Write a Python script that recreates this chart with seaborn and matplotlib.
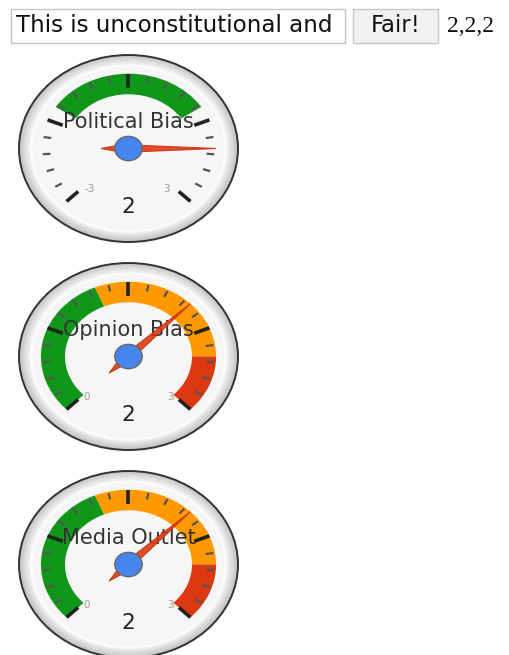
import numpy as np
import pandas as pd
import matplotlib
matplotlib.use("Agg")
import matplotlib.pyplot as plt
import seaborn as sns
from matplotlib.patches import Ellipse, Wedge, Polygon, Rectangle

# ---------------- data ----------------
gauge_labels = ["Political Bias", "Opinion Bias", "Media Outlet"]
gauge_values = [2, 2, 2]
gauge_min = [-3, 0, 0]
gauge_max = [3, 3, 3]
green_from = [-1.25, 0, 0]
green_to = [1.25, 1.25, 1.25]
yellow_from = [None, 1.25, 1.25]
yellow_to = [None, 2.5, 2.5]
red_from = [None, 2.5, 2.5]
red_to = [None, 3, 3]
input_text = "This is unconstitutional and"
button_text = "Fair!"
result_text = ",".join(str(v) for v in gauge_values)

sns.set_theme(style="white")
plt.rcParams['font.family'] = ['DejaVu Sans']

W, H = 510, 655
fig = plt.figure(figsize=(W / 100, H / 100), dpi=100)
fig.patch.set_facecolor("white")

# page axes in pixel coordinates
page = fig.add_axes([0, 0, 1, 1])
page.set_xlim(0, W)
page.set_ylim(H, 0)
page.axis("off")

page.add_patch(Rectangle((11.5, 8.5), 334, 34, fc="white", ec="#c4c4c4", lw=1))
page.text(16, 26, input_text, fontsize=16.6, color="#111", va="center", ha="left")
page.add_patch(Rectangle((353.5, 8.5), 85, 34, fc="#f1f1f1", ec="#c8c8c8", lw=1))
page.text(396, 26, button_text, fontsize=16.4, color="#111", va="center", ha="center")
page.text(447, 26, result_text, fontsize=17, color="#111", va="center", ha="left",
          family=["Liberation Serif", "DejaVu Serif"])

GREEN, ORANGE, RED = "#109618", "#FF9900", "#DC3912"

centers_y = [148.5, 356.5, 564.5]
cx, rx, ry = 128.5, 109.5, 93.5
pad = 1.03


def ang(v, lo, hi):
    return 225 - 270 * (v - lo) / (hi - lo)


bezel = [(2.00, "#c4c4c4", 0.0), (1.96, "#cfcfcf", 0.004), (1.92, "#d9d9d9", 0.006),
         (1.88, "#e3e3e3", 0.006), (1.84, "#eeeeee", 0.004), (1.80, "#fbfbfb", 0.0)]

for i, label in enumerate(gauge_labels):
    cy = centers_y[i]
    ax = fig.add_axes([(cx - rx * pad) / W, 1 - (cy + ry * pad) / H,
                       2 * rx * pad / W, 2 * ry * pad / H])
    ax.set_xlim(-pad, pad)
    ax.set_ylim(-pad, pad)
    ax.axis("off")
    lo, hi = gauge_min[i], gauge_max[i]

    # bezel and face
    for k, (d, c, dy) in enumerate(bezel):
        ax.add_patch(Ellipse((0, dy), d, d, fc=c, ec="none", zorder=1 + 0.01 * k))
    ax.add_patch(Ellipse((0, 0), 2.0, 2.0, fc="none", ec="#333333", lw=1.4, zorder=1.2))
    ax.add_patch(Ellipse((0, 0), 1.75, 1.75, fc="#f6f6f6", ec="none", zorder=1.3))

    # colour bands
    for f, t, c in [(green_from[i], green_to[i], GREEN),
                    (yellow_from[i], yellow_to[i], ORANGE),
                    (red_from[i], red_to[i], RED)]:
        if f is None:
            continue
        ax.add_patch(Wedge((0, 0), 0.80, ang(t, lo, hi), ang(f, lo, hi),
                           width=0.22, fc=c, ec="none", zorder=2))

    # ticks
    fr = np.linspace(0, 1, 21)
    for k, q in enumerate(fr):
        a = np.deg2rad(225 - 270 * q)
        if k % 5 == 0:
            r0, r1, lw, col = 0.65, 0.80, 2.6, "#222222"
        else:
            r0, r1, lw, col = 0.715, 0.785, 1.6, "#555555"
        ax.plot([r0 * np.cos(a), r1 * np.cos(a)], [r0 * np.sin(a), r1 * np.sin(a)],
                color=col, lw=lw, solid_capstyle="butt", zorder=3)

    # texts
    ax.text(0, 0.28, label, ha="center", va="center", fontsize=15, color="#333", zorder=4)
    ax.text(0, -0.63, str(gauge_values[i]), ha="center", va="center", fontsize=15.5,
            color="#222", zorder=4)
    off = 0.35 if lo < 0 else 0.38
    ax.text(-off, -0.43, str(lo), ha="center", va="center", fontsize=7.5, color="#999", zorder=4)
    ax.text(off if lo < 0 else 0.38, -0.43, str(hi), ha="center", va="center",
            fontsize=7.5, color="#999", zorder=4)

    # needle
    a = np.deg2rad(ang(gauge_values[i], lo, hi))
    ca, sa = np.cos(a), np.sin(a)
    pts_local = np.array([[0.80, 0.0], [-0.06, 0.042], [-0.25, 0.0], [-0.06, -0.042]])
    rot = np.array([[ca, -sa], [sa, ca]])
    pts = pts_local @ rot.T
    ax.add_patch(Polygon(pts, closed=True, fc=RED, ec="#c63310", lw=0.8, alpha=0.9, zorder=5))

    # hub
    ax.add_patch(Ellipse((0, 0), 0.25, 0.26, fc="#4684EE", ec="#666666", lw=1.0, zorder=6))

fig.savefig("out.png", dpi=100, facecolor="white")
